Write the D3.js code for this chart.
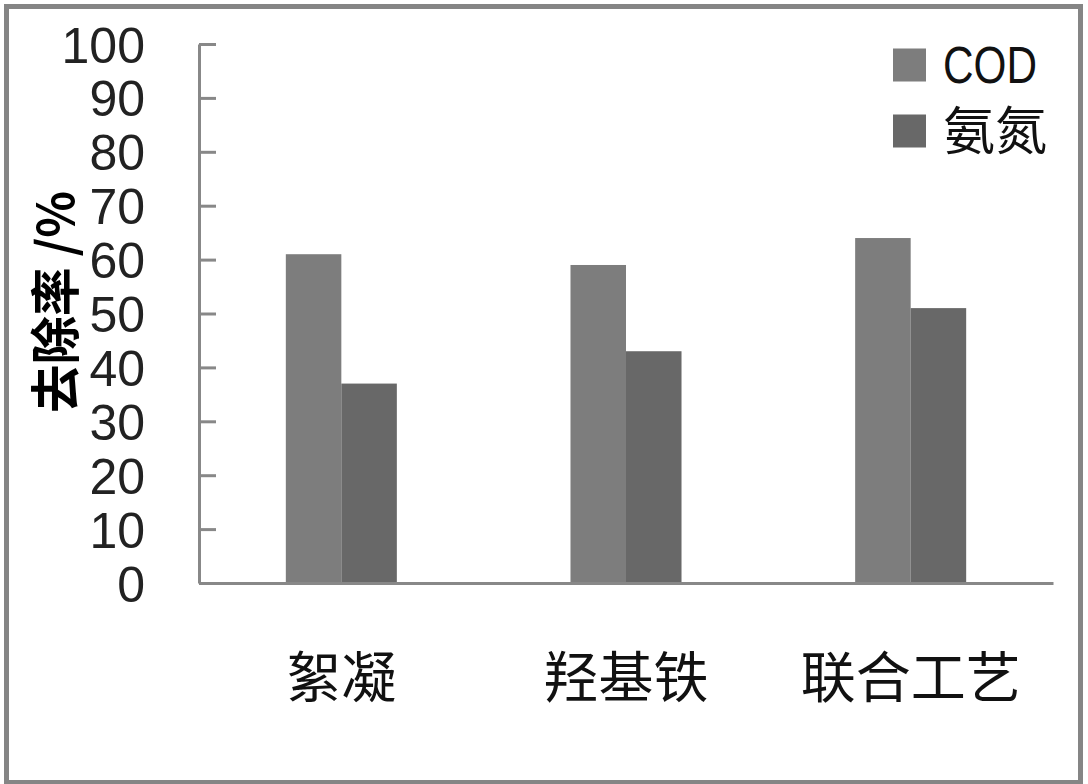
<!DOCTYPE html>
<html>
<head>
<meta charset="utf-8">
<script src="https://cdn.jsdelivr.net/npm/d3@7"></script>
<style>
  html, body { margin: 0; padding: 0; background: #fff; }
  svg { display: block; }
</style>
</head>
<body>
<script>
// Removal rates (%) for three treatment processes
const categories = ["絮凝", "羟基铁", "联合工艺"];
const seriesNames = ["COD", "氨氮"];
const codValues = [61, 59, 64];
const ammoniaValues = [37, 43, 51];
const yTicks = [0, 10, 20, 30, 40, 50, 60, 70, 80, 90, 100];
const yTitle = "去除率 /%";

const seriesValues = { "COD": codValues, "氨氮": ammoniaValues };
const colors = { "COD": "#7d7d7d", "氨氮": "#686868" };

const W = 1088, H = 784;
const plotLeft = 199, plotRight = 1053, plotTop = 44, plotBottom = 583;

const svg = d3.select("body").append("svg")
  .attr("width", W).attr("height", H);

svg.append("rect").attr("width", W).attr("height", H).attr("fill", "#fff");

// outer frame
svg.append("rect")
  .attr("x", 6.5).attr("y", 6.5)
  .attr("width", 1074).attr("height", 776)
  .attr("fill", "none").attr("stroke", "#858585").attr("stroke-width", 5);

const y = d3.scaleLinear().domain([0, 100]).range([plotBottom, plotTop]);
const x0 = d3.scaleBand().domain(categories).range([plotLeft, plotRight])
  .paddingInner(0.61).paddingOuter(0.305);
const x1 = d3.scaleBand().domain(seriesNames).range([0, x0.bandwidth()]);

// bars
const groups = svg.append("g").selectAll("g")
  .data(categories)
  .join("g")
  .attr("transform", d => `translate(${x0(d)},0)`);

groups.selectAll("rect")
  .data((c, i) => seriesNames.map(s => ({ s, v: seriesValues[s][i] })))
  .join("rect")
  .attr("x", d => x1(d.s))
  .attr("y", d => y(d.v))
  .attr("width", x1.bandwidth())
  .attr("height", d => y(0) - y(d.v))
  .attr("fill", d => colors[d.s]);

// y axis: ticks pointing into the plot
const yAxis = d3.axisLeft(y).tickValues(yTicks).tickSizeInner(-17).tickSizeOuter(0).tickPadding(54);
const gy = svg.append("g").attr("transform", `translate(${plotLeft},0)`).call(yAxis);
gy.select(".domain").attr("stroke", "#888").attr("stroke-width", 3);
gy.selectAll(".tick line").attr("stroke", "#888").attr("stroke-width", 3);
gy.selectAll(".tick text")
  .attr("fill", "#222")
  .style("font-family", "'Liberation Sans', Arial, sans-serif")
  .style("font-size", "50px")
  .attr("dy", "0.36em");

// x axis
const xAxis = d3.axisBottom(x0).tickSize(0).tickSizeOuter(0);
const gx = svg.append("g").attr("transform", `translate(0,${plotBottom})`).call(xAxis);
gx.select(".domain").attr("stroke", "#888").attr("stroke-width", 3);
gx.selectAll(".tick text")
  .attr("fill", "#111")
  .attr("y", 95)
  .attr("dy", "0.35em")
  .style("font-family", "'Noto Sans CJK SC', sans-serif")
  .style("font-size", "55px");

// y axis title
svg.append("text")
  .attr("transform", "translate(52,302) rotate(-90)")
  .attr("text-anchor", "middle")
  .attr("dominant-baseline", "central")
  .style("font-family", "'Noto Sans CJK SC', sans-serif")
  .style("font-size", "50px")
  .style("font-weight", "bold")
  .attr("fill", "#000")
  .attr("textLength", 222)
  .attr("lengthAdjust", "spacingAndGlyphs")
  .text(yTitle);

// legend
const legendRowY = [65, 131];
const legend = svg.append("g").selectAll("g")
  .data(seriesNames)
  .join("g")
  .attr("transform", (d, i) => `translate(893,${legendRowY[i]})`);
legend.append("rect")
  .attr("x", 0).attr("y", -16.5)
  .attr("width", 33).attr("height", 33)
  .attr("fill", d => colors[d]);
legend.append("text")
  .attr("x", 50).attr("dy", "0.36em")
  .attr("fill", "#111")
  .style("font-family", d => d === "COD" ? "'Liberation Sans', Arial, sans-serif" : "'Noto Sans CJK SC', sans-serif")
  .style("font-size", d => d === "COD" ? "51px" : "52px")
  .attr("textLength", d => d === "COD" ? 94 : null)
  .attr("lengthAdjust", "spacingAndGlyphs")
  .text(d => d);
</script>
</body>
</html>
